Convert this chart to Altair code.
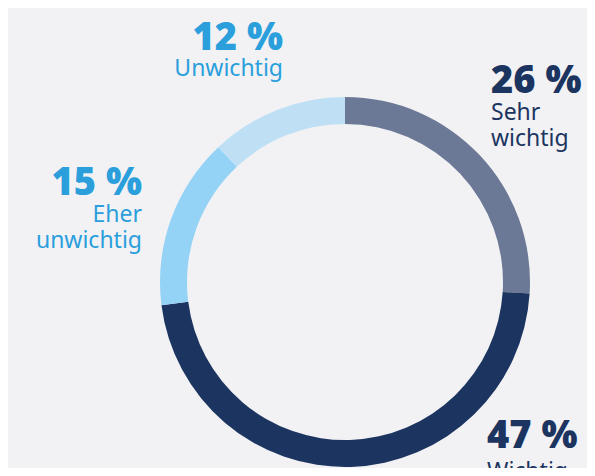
import altair as alt
import pandas as pd

# data
categories = ["Sehr wichtig", "Wichtig", "Eher unwichtig", "Unwichtig"]
values = [26, 47, 15, 12]
pct_labels = ["26 %", "47 %", "15 %", "12 %"]
name_labels = ["Sehr\nwichtig", "Wichtig", "Eher\nunwichtig", "Unwichtig"]

# styles
slice_colors = ["#6b7896", "#1c3560", "#94d3f5", "#bfe0f4"]
text_colors = ["#1c3560", "#1c3560", "#2a9fdc", "#2a9fdc"]
bg = "#f2f2f5"

# layout (chart coordinates, origin = top-left of plot area)
W, H = 579, 460
CX, CY = 337, 274
R_OUT, R_IN = 185, 158
pct_x = [483, 479, 134, 275]
pct_y = [85, 440, 187, 42]
name_x = [483, 479, 134, 275]
name_y = [112, 471, 214, 68]
aligns = ["left", "left", "right", "right"]

df = pd.DataFrame({"cat": categories, "value": values, "order": list(range(len(values)))})

donut = alt.Chart(df).mark_arc(outerRadius=R_OUT, innerRadius=R_IN, stroke=None).encode(
    theta=alt.Theta("value:Q", stack=True),
    order=alt.Order("order:Q"),
    color=alt.Color("cat:N", scale=alt.Scale(domain=categories, range=slice_colors), legend=None),
    x=alt.value(CX),
    y=alt.value(CY),
)

layers = [donut]
for i in range(len(categories)):
    ldf = pd.DataFrame({"pct": [pct_labels[i]], "name": [name_labels[i]],
                        "px": [pct_x[i]], "py": [pct_y[i]], "nx": [name_x[i]], "ny": [name_y[i]]})
    p = alt.Chart(ldf).mark_text(
        align=aligns[i], baseline="alphabetic", font="Open Sans", fontWeight=800,
        fontSize=38, color=text_colors[i]
    ).encode(x=alt.X("px:Q", scale=None), y=alt.Y("py:Q", scale=None), text="pct:N")
    n = alt.Chart(ldf).mark_text(
        align=aligns[i], baseline="alphabetic", font="Noto Sans", fontWeight="normal",
        fontSize=23, lineBreak="\n", lineHeight=25.5, color=text_colors[i]
    ).encode(x=alt.X("nx:Q", scale=None), y=alt.Y("ny:Q", scale=None), text="name:N")
    layers += [p, n]

chart = alt.layer(*layers).properties(
    width=W, height=H, background=bg, padding=0,
    autosize=alt.AutoSizeParams(type="none"),
).configure_view(stroke=None)

chart.save("out.html", embed_options={"renderer": "svg", "actions": False})
